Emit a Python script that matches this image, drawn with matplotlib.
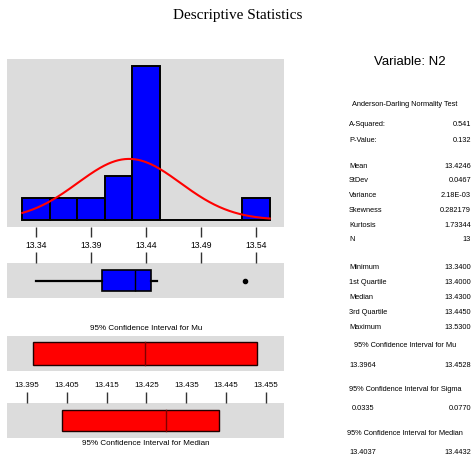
import numpy as np
import matplotlib
matplotlib.use("Agg")
import matplotlib.pyplot as plt
from matplotlib import font_manager

# ---------------- data ----------------
bin_centers = [13.34, 13.365, 13.39, 13.415, 13.44, 13.465, 13.49, 13.515, 13.54]
bin_counts = [1, 1, 1, 2, 7, 0, 0, 0, 1]
bin_width = 0.025
hist_ticks = [13.34, 13.39, 13.44, 13.49, 13.54]

mean = 13.4246
stdev = 0.0467
n_obs = 13

q1, median, q3 = 13.400, 13.430, 13.445
whisker_lo, whisker_hi = 13.340, 13.450
outliers = [13.530]

ci_mu = [13.3964, 13.4528]
ci_median = [13.4037, 13.4432]
ci_ticks = [13.395, 13.405, 13.415, 13.425, 13.435, 13.445, 13.455]

stat_labels_top = ["A-Squared:", "P-Value:"]
stat_values_top = ["0.541", "0.132"]
stat_labels_mid = ["Mean", "StDev", "Variance", "Skewness", "Kurtosis", "N"]
stat_values_mid = ["13.4246", "0.0467", "2.18E-03", "0.282179", "1.73344", "13"]
stat_labels_low = ["Minimum", "1st Quartile", "Median", "3rd Quartile", "Maximum"]
stat_values_low = ["13.3400", "13.4000", "13.4300", "13.4450", "13.5300"]
ci_sigma = ["0.0335", "0.0770"]

# ---------------- style ----------------
names = {f.name for f in font_manager.fontManager.ttflist}
narrow = 'Liberation Sans Narrow' if 'Liberation Sans Narrow' in names else 'Liberation Sans'
plt.rcParams['font.family'] = [narrow, 'DejaVu Sans']

W, H = 473, 460
fig = plt.figure(figsize=(W / 100, H / 100), dpi=100)
GRAY = '#dcdcdc'


def rect(x0, y0, x1, y1):
    return [x0 / W, 1 - y1 / H, (x1 - x0) / W, (y1 - y0) / H]


def px(x, y):
    return x / W, 1 - y / H


def clean(ax):
    ax.set_facecolor(GRAY)
    for s in ax.spines.values():
        s.set_visible(False)
    ax.set_yticks([])


# ---------------- histogram ----------------
axh = fig.add_axes(rect(7, 60, 284, 228))
clean(axh)
axh.bar(bin_centers, bin_counts, width=bin_width, color='#0000ff',
        edgecolor='black', linewidth=1.4, zorder=2)
xs = np.linspace(bin_centers[0] - bin_width / 2, bin_centers[-1] + bin_width / 2, 300)
ys = n_obs * bin_width * np.exp(-0.5 * ((xs - mean) / stdev) ** 2) / (stdev * np.sqrt(2 * np.pi))
axh.plot(xs, ys, color='#ff0000', lw=1.5, zorder=3)
axh.set_xlim(13.3136, 13.5655)
axh.set_ylim(-0.32, 7.32)
axh.set_xticks(hist_ticks)
axh.set_xticklabels([f"{t:.2f}" for t in hist_ticks], fontsize=6.2)
axh.tick_params(axis='x', direction='out', length=7, width=1, pad=2.5, color='#333333')

# ---------------- boxplot ----------------
axb = fig.add_axes(rect(7, 264, 284, 299))
clean(axb)
axb.bxp([dict(med=median, q1=q1, q3=q3, whislo=whisker_lo, whishi=whisker_hi,
              fliers=outliers)],
        vert=False, positions=[0], widths=0.6, showcaps=False, patch_artist=True,
        boxprops=dict(facecolor='#0000ff', edgecolor='black', linewidth=1.2),
        medianprops=dict(color='black', linewidth=1),
        whiskerprops=dict(color='black', linewidth=1.6),
        flierprops=dict(marker='o', markersize=3, markerfacecolor='black',
                        markeredgecolor='black'))
axb.set_xlim(13.3136, 13.5655)
axb.set_ylim(-0.5, 0.5)
axb.set_xticks(hist_ticks)
axb.xaxis.tick_top()
axb.tick_params(axis='x', direction='out', length=8, width=1, labeltop=False,
                labelbottom=False, color='#333333')
axb.set_yticks([])

# ---------------- CI for Mu ----------------
axm = fig.add_axes(rect(7, 337, 284, 372))
clean(axm)
axm.barh(0, ci_mu[1] - ci_mu[0], left=ci_mu[0], height=0.66, color='#ff0000',
         edgecolor='#200000', linewidth=1.0)
axm.plot([mean, mean], [-0.33, 0.33], color='#800000', lw=1.0)
axm.set_xlim(13.390, 13.4595)
axm.set_ylim(-0.5, 0.5)
axm.set_xticks(ci_ticks)
axm.set_xticklabels([f"{t:.3f}" for t in ci_ticks], fontsize=5.8)
axm.tick_params(axis='x', length=0, pad=7)

# ---------------- CI for Median ----------------
axd = fig.add_axes(rect(7, 404, 284, 439))
clean(axd)
axd.barh(0, ci_median[1] - ci_median[0], left=ci_median[0], height=0.6,
         color='#ff0000', edgecolor='#200000', linewidth=1.0)
axd.plot([median, median], [-0.3, 0.3], color='#800000', lw=1.0)
axd.set_xlim(13.390, 13.4595)
axd.set_ylim(-0.5, 0.5)
axd.set_xticks(ci_ticks)
axd.xaxis.tick_top()
axd.tick_params(axis='x', direction='out', length=8, width=1, labeltop=False,
                labelbottom=False, color='#333333')

fig.text(*px(146, 329), "95% Confidence Interval for Mu", ha='center', va='center', fontsize=5.8)
fig.text(*px(146, 444), "95% Confidence Interval for Median", ha='center', va='center', fontsize=5.8)

# ---------------- titles ----------------
fig.text(*px(238, 16), "Descriptive Statistics", ha='center', va='center',
         fontsize=11, family=['Liberation Serif', 'DejaVu Serif'])
fig.text(*px(410, 62), "Variable: N2", ha='center', va='center', fontsize=9.5)

# ---------------- right panel stats ----------------
FS = 5.3
LX, RX, CX = 349, 471, 405
fig.text(*px(CX, 104), "Anderson-Darling Normality Test", ha='center', va='center', fontsize=FS)
for i, (l, v) in enumerate(zip(stat_labels_top, stat_values_top)):
    y = 124 + i * 16
    fig.text(*px(LX, y), l, ha='left', va='center', fontsize=FS)
    fig.text(*px(RX, y), v, ha='right', va='center', fontsize=FS)
for i, (l, v) in enumerate(zip(stat_labels_mid, stat_values_mid)):
    y = 166 + i * 14.8
    fig.text(*px(LX, y), l, ha='left', va='center', fontsize=FS)
    fig.text(*px(RX, y), v, ha='right', va='center', fontsize=FS)
for i, (l, v) in enumerate(zip(stat_labels_low, stat_values_low)):
    y = 268 + i * 14.8
    fig.text(*px(LX, y), l, ha='left', va='center', fontsize=FS)
    fig.text(*px(RX, y), v, ha='right', va='center', fontsize=FS)

fig.text(*px(CX, 346), "95% Confidence Interval for Mu", ha='center', va='center', fontsize=FS)
fig.text(*px(LX, 366), f"{ci_mu[0]:.4f}", ha='left', va='center', fontsize=FS)
fig.text(*px(RX, 366), f"{ci_mu[1]:.4f}", ha='right', va='center', fontsize=FS)
fig.text(*px(CX, 390), "95% Confidence Interval for Sigma", ha='center', va='center', fontsize=FS)
fig.text(*px(LX + 3, 409), ci_sigma[0], ha='left', va='center', fontsize=FS)
fig.text(*px(RX, 409), ci_sigma[1], ha='right', va='center', fontsize=FS)
fig.text(*px(CX, 434), "95% Confidence Interval for Median", ha='center', va='center', fontsize=FS)
fig.text(*px(LX, 453), f"{ci_median[0]:.4f}", ha='left', va='center', fontsize=FS)
fig.text(*px(RX, 453), f"{ci_median[1]:.4f}", ha='right', va='center', fontsize=FS)

fig.savefig("out.png", dpi=100)
